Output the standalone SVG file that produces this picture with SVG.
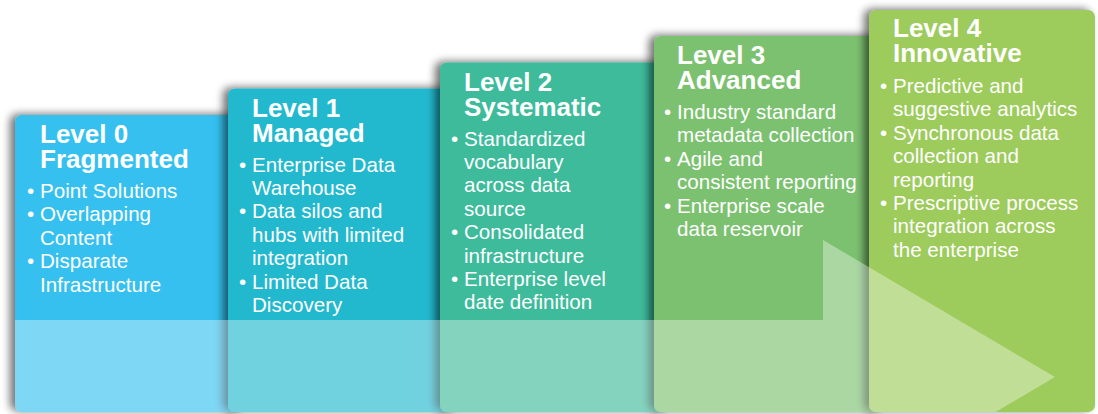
<svg xmlns="http://www.w3.org/2000/svg" width="1098" height="414" viewBox="0 0 1098 414">
<style>
.t{font-family:"Liberation Sans",Arial,sans-serif;font-weight:bold;font-size:26px;fill:#fff}
.b{font-family:"Liberation Sans",Arial,sans-serif;font-size:20.6px;fill:#fff}
</style>
<defs>
<filter id="sh" x="-20%" y="-20%" width="140%" height="140%">
<feGaussianBlur in="SourceAlpha" stdDeviation="4"/>
<feOffset dx="-5" dy="-1" result="o"/>
<feComponentTransfer><feFuncA type="linear" slope="0.55"/></feComponentTransfer>
<feMerge><feMergeNode/><feMergeNode in="SourceGraphic"/></feMerge>
</filter>
<clipPath id="pc">
<rect x="15" y="115" width="230" height="297" rx="7"/>
<rect x="228" y="88.5" width="230" height="323.5" rx="7"/>
<rect x="440" y="62.5" width="230" height="349.5" rx="7"/>
<rect x="654" y="36" width="230" height="376" rx="7"/>
<rect x="869" y="10" width="226" height="402" rx="7"/>
</clipPath>
</defs>
<g id="level0" transform="translate(15,115)">
<rect width="230" height="297" rx="7" fill="#35C0EF" filter="url(#sh)"/>
<text class="t"><tspan x="25" y="28">Level 0</tspan><tspan x="25" y="53">Fragmented</tspan></text>
<text class="b"><tspan x="12" y="83">•</tspan><tspan x="25" y="83">Point Solutions</tspan><tspan x="12" y="106.4">•</tspan><tspan x="25" y="106.4">Overlapping</tspan><tspan x="25" y="129.8">Content</tspan><tspan x="12" y="153.2">•</tspan><tspan x="25" y="153.2">Disparate</tspan><tspan x="25" y="176.6">Infrastructure</tspan></text>
</g>
<g id="level1" transform="translate(228,88.5)">
<rect width="230" height="323.5" rx="7" fill="#22B9CE" filter="url(#sh)"/>
<text class="t"><tspan x="24" y="28">Level 1</tspan><tspan x="24" y="53">Managed</tspan></text>
<text class="b"><tspan x="11" y="83">•</tspan><tspan x="24" y="83">Enterprise Data</tspan><tspan x="24" y="106.4">Warehouse</tspan><tspan x="11" y="129.8">•</tspan><tspan x="24" y="129.8">Data silos and</tspan><tspan x="24" y="153.2">hubs with limited</tspan><tspan x="24" y="176.6">integration</tspan><tspan x="11" y="200">•</tspan><tspan x="24" y="200">Limited Data</tspan><tspan x="24" y="223.4">Discovery</tspan></text>
</g>
<g id="level2" transform="translate(440,62.5)">
<rect width="230" height="349.5" rx="7" fill="#3EBB9B" filter="url(#sh)"/>
<text class="t"><tspan x="24" y="28">Level 2</tspan><tspan x="24" y="53">Systematic</tspan></text>
<text class="b"><tspan x="11" y="83">•</tspan><tspan x="24" y="83">Standardized</tspan><tspan x="24" y="106.4">vocabulary</tspan><tspan x="24" y="129.8">across data</tspan><tspan x="24" y="153.2">source</tspan><tspan x="11" y="176.6">•</tspan><tspan x="24" y="176.6">Consolidated</tspan><tspan x="24" y="200">infrastructure</tspan><tspan x="11" y="223.4">•</tspan><tspan x="24" y="223.4">Enterprise level</tspan><tspan x="24" y="246.8">date definition</tspan></text>
</g>
<g id="level3" transform="translate(654,36)">
<rect width="230" height="376" rx="7" fill="#7CC16F" filter="url(#sh)"/>
<text class="t"><tspan x="23" y="28">Level 3</tspan><tspan x="23" y="53">Advanced</tspan></text>
<text class="b"><tspan x="10" y="83">•</tspan><tspan x="23" y="83">Industry standard</tspan><tspan x="23" y="106.4">metadata collection</tspan><tspan x="10" y="129.8">•</tspan><tspan x="23" y="129.8">Agile and</tspan><tspan x="23" y="153.2">consistent reporting</tspan><tspan x="10" y="176.6">•</tspan><tspan x="23" y="176.6">Enterprise scale</tspan><tspan x="23" y="200">data reservoir</tspan></text>
</g>
<g id="level4" transform="translate(869,10)">
<rect width="226" height="402" rx="7" fill="#9DCB5C" filter="url(#sh)"/>
<text class="t"><tspan x="24" y="27">Level 4</tspan><tspan x="24" y="52">Innovative</tspan></text>
<text class="b"><tspan x="11" y="83">•</tspan><tspan x="24" y="83">Predictive and</tspan><tspan x="24" y="106.4">suggestive analytics</tspan><tspan x="11" y="129.8">•</tspan><tspan x="24" y="129.8">Synchronous data</tspan><tspan x="24" y="153.2">collection and</tspan><tspan x="24" y="176.6">reporting</tspan><tspan x="11" y="200">•</tspan><tspan x="24" y="200">Prescriptive process</tspan><tspan x="24" y="223.4">integration across</tspan><tspan x="24" y="246.8">the enterprise</tspan></text>
</g>
<g id="arrow" clip-path="url(#pc)">
<polygon points="15,320 823,320 823,240 1055,377 823,514 823,434 15,434" fill="#fff" fill-opacity="0.36"/>
</g>
</svg>
